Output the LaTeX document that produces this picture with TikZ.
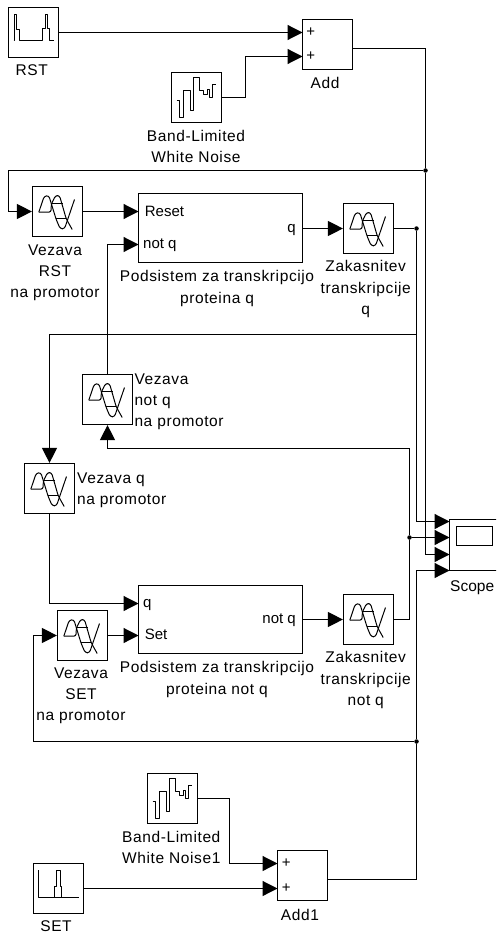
\documentclass[tikz,border=0pt]{standalone}
\usepackage{fontspec}
\setmainfont[LetterSpace=4]{Liberation Sans}
\newfontfamily\portfont{Liberation Sans}
\usetikzlibrary{arrows.meta}
\tikzset{
    block/.style={draw,line width=1.2pt,minimum width=50pt,minimum height=50pt,inner sep=0pt},
    subsys/.style={draw,line width=1.2pt,minimum width=164pt,inner sep=0pt},
    wire/.style={line width=1.2pt},
    sig/.style={wire,-{Triangle[length=15pt,width=15pt]}},
    dot/.style={circle,fill,inner sep=0pt,minimum size=4.5pt},
    lab/.style={anchor=north,align=center,inner sep=0pt,font=\fontsize{15.5}{21.3}\selectfont},
    lableft/.style={lab,anchor=north west,align=left},
    port/.style={inner sep=0pt,font=\portfont\fontsize{15}{18}\selectfont},
    icon/.style={line width=1pt,line join=round},
    delayicon/.pic={
        \draw[icon,rounded corners=2.5pt] (-18.7,.7) -- (-13.3,-15.3) -- (-8.7,-16) -- (-1.3,8) -- (2.7,17.3) -- (7,17.3) -- (17,-12);
        \draw[icon,rounded corners=2.5pt] (-18.7,.7) -- (-6.3,.7) -- (-6.3,-7) -- (-2,-16) -- (2,-16) -- (8.7,7.3) -- (14.7,18);
        \draw[icon] (-6.3,-7.7) -- (5.3,-7.7);
        \draw[icon] (-1.3,7.3) -- (8.7,7.3);
    },
    noiseicon/.pic={
        \draw[icon] (-20,3.3) -- (-16.7,3.3) -- (-16.7,20) -- (-12.7,20) -- (-12.7,-6.7) -- (-6,-6.7) -- (-6,13.3)
            -- (-3,13.3) -- (-3,-19.7) -- (3.3,-19.7) -- (3.3,-7) -- (7.3,-7) -- (7.3,-2.7) -- (10.7,-2.7)
            -- (10.7,-8) -- (13.3,-8) -- (13.3,-.3) -- (16.3,-.3) -- (16.3,-13) -- (19.7,-13);
    },
}
\begin{document}
\begin{tikzpicture}[x=1pt,y=-1pt]
    \useasboundingbox (0,0) rectangle (496,936);
    \clip (0,0) rectangle (496,936); % Scope runs off the page
    % sources and sums
    \node[block] (rst) at (33.5,32.5) {};
    \node[block] (add) at (327.5,44.5) {};
    \node[block] (noise) at (196.5,97.5) {};
    \node[block] (noisea) at (172.5,798.5) {};
    \node[block] (add1) at (302.5,875.5) {};
    \node[block] (set) at (58.5,888.5) {};
    \pic at (noise) {noiseicon};
    \pic at (noisea) {noiseicon};
    \draw[icon] (13.5,40.8) -- (14.2,40.8) -- (14.2,14.5) -- (16.8,14.5) -- (16.8,29.5) -- (19.2,29.5) -- (19.2,40.8)
        -- (42.8,40.8) -- (42.8,28.5) -- (45.2,28.5) -- (45.2,14.2) -- (47.2,14.2) -- (47.2,28.5) -- (49.5,28.5) -- (49.5,40.8) -- (53.5,40.8);
    \draw[icon] (38.5,870.3) -- (38.5,897) -- (78.5,897);
    \draw[icon] (54.5,897) -- (54.5,886.3) -- (56.2,886.3) -- (56.2,870.3) -- (60.2,870.3) -- (60.2,886.3) -- (61.9,886.3) -- (61.9,897);

    % delays
    \foreach \name/\x/\y in {vezrst/57.5/211.5,zakq/368.5/228.5,veznotq/107.5/399.5,vezq/49.5/488.5,vezset/82.5/635.5,zaknotq/368.5/619.5}{
        \node[block] (\name) at (\x,\y) {};
        \pic at (\x,\y) {delayicon};
    }

    % subsystems and scope
    \node[subsys,minimum height=69pt] (podq) at (220.5,228) {};
    \node[subsys,minimum height=68pt] (podnotq) at (220.5,619.5) {};
    \node[draw,line width=1.2pt,minimum width=50pt,minimum height=51pt,inner sep=0pt] (scope) at (474.5,545) {};
    \node[draw,line width=1.2pt,minimum width=36pt,minimum height=19pt,inner sep=0pt] (screen) at (474.5,536) {};

    % ports
    \node[port,anchor=base west] (reset) at (144.7,216) {Reset};
    \node[port,anchor=base west] (notqin) at (143,248.5) {not q};
    \node[port,anchor=base east] (qout) at (296,232.8) {q};
    \node[port,anchor=base west] (qin) at (143,607.3) {q};
    \node[port,anchor=base west] (setin) at (144.7,639.5) {Set};
    \node[port,anchor=base east] (notqout) at (296,623.3) {not q};
    \node[port] (plusa) at (310.7,32.5) {+};
    \node[port] (plusb) at (310.7,56.5) {+};
    \node[port] (plusc) at (286.3,863.5) {+};
    \node[port] (plusd) at (286.3,888.5) {+};

    % labels
    \node[lab] (rstlab) at (31.7,64.5) {RST};
    \node[lab] (addlab) at (325,77.5) {Add};
    \node[lab] (noiselab) at (196,130.2) {Band-Limited\\White Noise};
    \node[lab] (vezrstlab) at (55,244.5) {Vezava\\RST\\na promotor};
    \node[lab] (podqlab) at (217,270.5) {Podsistem za transkripcijo\\proteina q};
    \node[lab] (zakqlab) at (365.7,260.5) {Zakasnitev\\transkripcije\\q};
    \node[lableft] (veznotqlab) at (134.3,373.5) {Vezava\\not q\\na promotor};
    \node[lableft] (vezqlab) at (77,472.8) {Vezava q\\na promotor};
    \node[port,anchor=base west,font=\portfont\fontsize{15.5}{18}\selectfont] (scopelab) at (450,591) {Scope};
    \node[lab] (vezsetlab) at (81,667.5) {Vezava\\SET\\na promotor};
    \node[lab] (podnotqlab) at (217,661.5) {Podsistem za transkripcijo\\proteina not q};
    \node[lab] (zaknotqlab) at (365.7,651.5) {Zakasnitev\\transkripcije\\not q};
    \node[lab] (noisealab) at (171.3,831.2) {Band-Limited\\White Noise1};
    \node[lab] (add1lab) at (300,909.5) {Add1};
    \node[lab] (setlab) at (56,920.2) {SET};

    % free ends
    \coordinate (addina) at (302.5,32.5);
    \coordinate (addinb) at (302.5,56.5);
    \coordinate (addout) at (352.5,48.5);
    \coordinate (noisebend) at (245.5,56.5);
    \coordinate (fbrst) at (8.5,170.5);
    \coordinate (resetin) at (138.5,211.5);
    \coordinate (notqport) at (138.5,244.5);
    \coordinate (qoutport) at (302.5,228.5);
    \coordinate (qbranch) at (416.5,334.5);
    \coordinate (qbend) at (49.5,334.5);
    \coordinate (notqbend) at (107.5,448.5);
    \coordinate (notqcorner) at (409.5,448.5);
    \coordinate (qport) at (138.5,603.5);
    \coordinate (setport) at (138.5,635.5);
    \coordinate (notqoutport) at (302.5,619.5);
    \coordinate (zaknotqcorner) at (409.5,619.5);
    \coordinate (fbset) at (33.5,741.5);
    \coordinate (scopea) at (449.5,521.5);
    \coordinate (scopeb) at (449.5,537.5);
    \coordinate (scopec) at (449.5,554.5);
    \coordinate (scoped) at (449.5,570.5);
    \coordinate (add1ina) at (277.5,863.5);
    \coordinate (add1inb) at (277.5,888.5);
    \coordinate (add1out) at (327.5,879.5);
    \coordinate (noiseabend) at (229.5,798.5);

    % junctions
    \node[dot] (jadd) at (425.5,170.5) {};
    \node[dot] (jq) at (416.5,228.5) {};
    \node[dot] (jnotq) at (409.5,537.5) {};
    \node[dot] (jset) at (416.5,741.5) {};

    % top half
    \draw[sig] (rst.east) -- (addina);
    \draw[sig] (noise.east) -| (noisebend) -- (addinb);
    \draw[wire] (addout) -| (jadd);
    \draw[sig] (jadd) |- (scopec);
    \draw[sig] (jadd) -- (fbrst) |- (vezrst.west);
    \draw[sig] (vezrst.east) -- (resetin);
    \draw[sig] (qoutport) -- (zakq.west);
    \draw[wire] (zakq.east) -- (jq);
    \draw[sig] (jq) |- (scopea);
    \draw[sig] (qbranch) -- (qbend) -- (vezq.north);
    \draw[sig] (veznotq.north) |- (notqport);

    % bottom half
    \draw[sig] (vezq.south) |- (qport);
    \draw[sig] (vezset.east) -- (setport);
    \draw[sig] (notqoutport) -- (zaknotq.west);
    \draw[wire] (zaknotq.east) -- (zaknotqcorner) -- (jnotq);
    \draw[sig] (jnotq) -- (notqcorner) -- (notqbend) -- (veznotq.south);
    \draw[sig] (jnotq) -- (scopeb);
    \draw[sig] (jset) |- (scoped);
    \draw[sig] (jset) -- (fbset) |- (vezset.west);
    \draw[wire] (add1out) -| (jset);
    \draw[sig] (noisea.east) -| (noiseabend) |- (add1ina);
    \draw[sig] (set.east) -- (add1inb);
\end{tikzpicture}
\end{document}
